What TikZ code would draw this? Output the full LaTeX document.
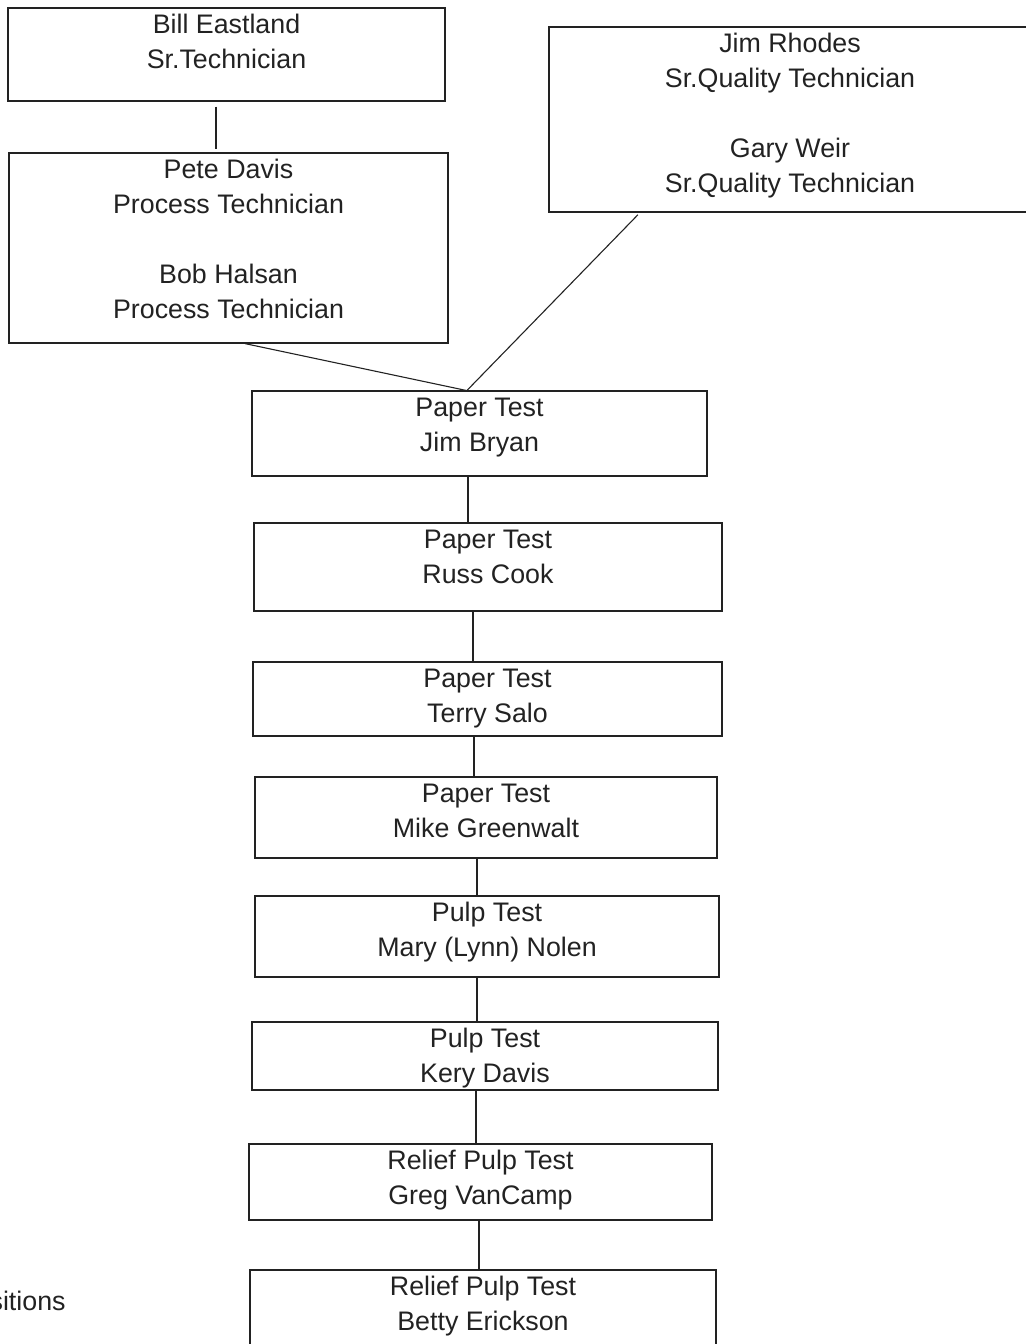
\documentclass[tikz,border=0pt]{standalone}
\usepackage{fontspec}
\setmainfont{Liberation Sans}
\usetikzlibrary{positioning}
\definecolor{ink}{HTML}{222222}
% text lines hung from the top of a box
\newcommand{\lines}[1]{\begin{tabular}[t]{@{}c@{}}#1\end{tabular}}

\begin{document}
\begin{tikzpicture}[x=0.5pt, y=-0.5pt,
    box/.style={draw=ink, line width=0.6pt, text=ink, inner sep=0pt,
        font=\fontsize{13.4}{17.5}\selectfont, text height=12.5pt},
    link/.style={draw=ink, line width=0.55pt}]
\useasboundingbox (0,0) rectangle (1026,1344);
% technicians
\node[box, minimum width=218.5pt, text depth=34pt] (bill) at (226.5,54.5)
    {\lines{Bill Eastland\\Sr.Technician}};
\node[box, minimum width=219.5pt, text depth=82.5pt] (pete) at (228.5,248)
    {\lines{Pete Davis\\Process Technician\\ \\Bob Halsan\\Process Technician}};
\node[box, minimum width=241pt, text depth=80pt] (rhodes) at (790,119.5)
    {\lines{Jim Rhodes\\Sr.Quality Technician\\ \\Gary Weir\\Sr.Quality Technician}};
% paper test
\node[box, minimum width=227.5pt, text depth=30pt] (bryan) at (479.5,433.5)
    {\lines{Paper Test\\Jim Bryan}};
\node[box, minimum width=234pt, text depth=31.5pt] (russ) at (488,567)
    {\lines{Paper Test\\Russ Cook}};
\node[box, minimum width=234.5pt, text depth=24.5pt] (terry) at (487.5,699)
    {\lines{Paper Test\\Terry Salo}};
\node[box, minimum width=231pt, text depth=28pt] (mike) at (486,817.5)
    {\lines{Paper Test\\Mike Greenwalt}};
% pulp test
\node[box, minimum width=232pt, text depth=28pt] (mary) at (487,936.5)
    {\lines{Pulp Test\\Mary (Lynn) Nolen}};
\node[box, minimum width=233pt, text depth=21.5pt] (kery) at (485,1056)
    {\lines{Pulp Test\\Kery Davis}};
\node[box, minimum width=231.5pt, text depth=25.5pt] (greg) at (480.5,1182)
    {\lines{Relief Pulp Test\\Greg VanCamp}};
\node[box, minimum width=233pt, text depth=30pt] (betty) at (483,1312.5)
    {\lines{Relief Pulp Test\\Betty Erickson}};
% cut-off text on the left
\node[anchor=base east, inner sep=0pt, text=ink, font=\fontsize{13.4}{15}\selectfont]
    (pos) at (66,1310) {sitions};

% links
\draw[link, shorten <=2.5pt, shorten >=1.5pt] (bill.south -| 216,0) -- (pete.north -| 216,0);
\draw[link] (pete.south -| 245,0) -- (bryan.north -| 466,0);
\draw[link, shorten <=1.5pt] (rhodes.south -| 640,0) -- (bryan.north -| 467,0);
\foreach \a/\b/\x in {bryan/russ/468, russ/terry/473, terry/mike/474,
        mike/mary/477, mary/kery/477, kery/greg/476, greg/betty/479}
    \draw[link] (\a.south -| \x,0) -- (\b.north -| \x,0);
\end{tikzpicture}
\end{document}
